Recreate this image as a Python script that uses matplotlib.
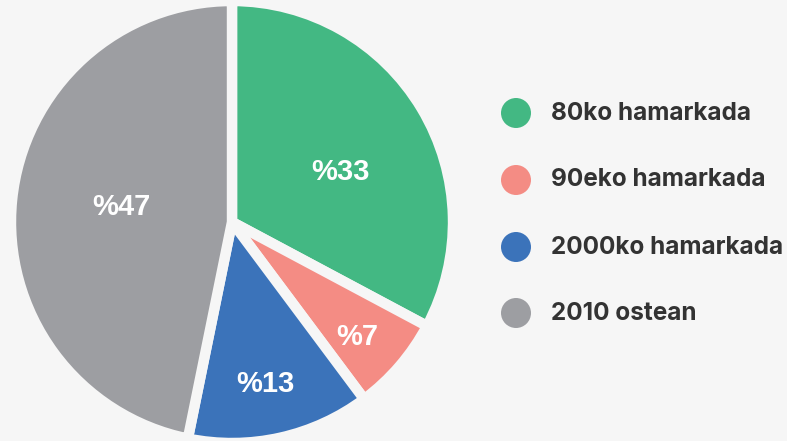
import numpy as np
import matplotlib
matplotlib.use("Agg")
import matplotlib.pyplot as plt
from matplotlib.patches import Circle

categories = ["80ko hamarkada", "90eko hamarkada", "2000ko hamarkada", "2010 ostean"]
values = [32.8, 7.0, 13.4, 46.8]
labels = ["%33", "%7", "%13", "%47"]
colors = ["#43b883", "#f48c84", "#3b73ba", "#9d9ea2"]
# label placement (style): radial fraction and angular offset in degrees
label_r = [0.54, 0.77, 0.75, 0.505]
label_dth = [-6, -2, -1, -2]

BG = "#f6f6f6"
W, H = 787, 441
fig = plt.figure(figsize=(W / 100, H / 100), dpi=100, facecolor=BG)

cx, cy, R = 232, 222, 221
ax = fig.add_axes([(cx - R) / W, (H - cy - R) / H, 2 * R / W, 2 * R / H])
ax.set_facecolor(BG)
wedges, _ = ax.pie(values, colors=colors, startangle=90, counterclock=False, radius=1,
                   wedgeprops=dict(edgecolor=BG, linewidth=7.5, joinstyle="miter"))
ax.set_xlim(-1, 1)
ax.set_ylim(-1, 1)
ax.set_aspect("equal")
ax.axis("off")

for w, lab, r, d in zip(wedges, labels, label_r, label_dth):
    th = np.deg2rad((w.theta1 + w.theta2) / 2 + d)
    ax.text(r * np.cos(th), r * np.sin(th), lab, ha="center", va="center",
            color="white", fontsize=21, fontweight="bold", family="Liberation Sans")

leg_y = [113, 180, 247, 313]
for cat, col, y in zip(categories, colors, leg_y):
    fig.patches.append(Circle((516, H - y), 15, transform=None, facecolor=col,
                              edgecolor="none", figure=fig))
    fig.text(551 / W, 1 - y / H, cat, ha="left", va="center", fontsize=17.5,
             fontweight="bold", family="Inter", color="#333333")

fig.savefig("out.png", dpi=100, facecolor=BG)
